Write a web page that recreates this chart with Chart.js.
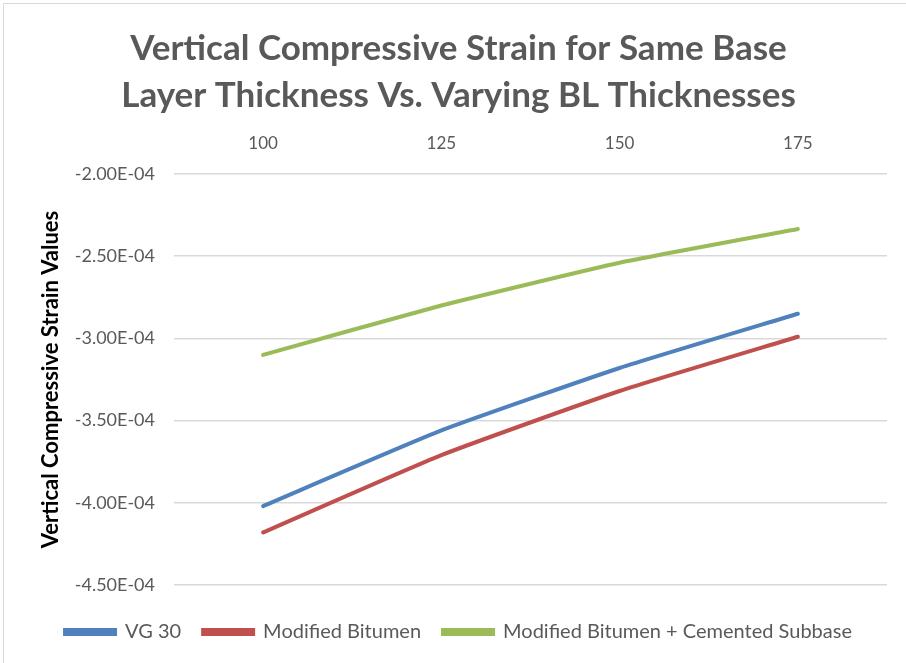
<!DOCTYPE html>
<html>
<head>
<meta charset="utf-8">
<script src="https://cdn.jsdelivr.net/npm/chart.js@4.4.1/dist/chart.umd.min.js"></script>
<style>
  html, body { margin: 0; padding: 0; background: #fff; }
  #wrap { position: relative; width: 906px; height: 663px; }
</style>
</head>
<body>
<div id="wrap"><canvas id="chart" width="906" height="663"></canvas></div>
<script>
// Base layer thickness categories (mm)
const thicknesses = ['100', '125', '150', '175'];

// Vertical compressive strain for each binder configuration
const vg30 = [-4.02e-4, -3.56e-4, -3.18e-4, -2.85e-4];
const modifiedBitumen = [-4.18e-4, -3.71e-4, -3.32e-4, -2.99e-4];
const modifiedCemented = [-3.10e-4, -2.80e-4, -2.54e-4, -2.335e-4];

const seriesNames = ['VG 30', 'Modified Bitumen', 'Modified Bitumen + Cemented Subbase'];
const titleLines = ['Vertical Compressive Strain for Same Base', 'Layer Thickness Vs. Varying BL Thicknesses'];
const yTitle = 'Vertical Compressive Strain Values';

const FONT = 'Lato, "Open Sans", sans-serif';
const GREY = '#595959';

function sciLabel(v) {
  const [m, e] = Number(v).toExponential(2).split('e');
  const n = parseInt(e, 10);
  const sign = n < 0 ? '-' : '+';
  return m + 'E' + sign + String(Math.abs(n)).padStart(2, '0');
}

// thin outline along the top and left edges of the chart
const frame = {
  id: 'frame',
  beforeDraw(chart) {
    const ctx = chart.ctx;
    ctx.save();
    ctx.strokeStyle = '#d9d9d9';
    ctx.lineWidth = 1;
    ctx.beginPath();
    ctx.moveTo(3.5, chart.height);
    ctx.lineTo(3.5, 3.5);
    ctx.lineTo(chart.width, 3.5);
    ctx.stroke();
    ctx.restore();
  }
};

function line(label, data, color) {
  return {
    label, data,
    borderColor: color,
    backgroundColor: color,
    borderWidth: 4,
    pointRadius: 0,
    pointHoverRadius: 0,
    tension: 0.15,
    borderCapStyle: 'round',
    fill: false
  };
}

new Chart(document.getElementById('chart'), {
  type: 'line',
  data: {
    labels: thicknesses,
    datasets: [
      line(seriesNames[0], vg30, '#4F81BD'),
      line(seriesNames[1], modifiedBitumen, '#C0504D'),
      line(seriesNames[2], modifiedCemented, '#9BBB59')
    ]
  },
  plugins: [frame],
  options: {
    responsive: false,
    animation: false,
    layout: { padding: { left: 30, right: 19, top: 0, bottom: 11 } },
    plugins: {
      title: {
        display: true,
        text: titleLines,
        color: GREY,
        font: { family: FONT, size: 35, weight: 'bold', lineHeight: 47 / 35 },
        padding: { top: 25, bottom: 0 }
      },
      legend: {
        display: true,
        position: 'bottom',
        align: 'center',
        title: {
          display: true,
          text: '',
          font: { size: 1, lineHeight: 1 },
          padding: { top: 14, bottom: 0 }
        },
        labels: {
          color: GREY,
          font: { family: FONT, size: 20 },
          boxWidth: 50,
          boxHeight: 4,
          padding: 22
        }
      },
      tooltip: { enabled: false }
    },
    scales: {
      x: {
        position: 'top',
        offset: true,
        grid: { display: false, drawTicks: false },
        border: { display: false },
        ticks: { color: GREY, font: { family: FONT, size: 17 }, padding: 20 },
        afterFit(scale) { scale.height = 55; }
      },
      y: {
        min: -4.5e-4,
        max: -2e-4,
        border: { display: false },
        grid: { color: '#d9d9d9', lineWidth: 1.5, drawTicks: false },
        ticks: {
          stepSize: 0.5e-4,
          color: GREY,
          font: { family: FONT, size: 18 },
          padding: 19,
          callback: (v) => sciLabel(v)
        },
        title: {
          display: true,
          text: yTitle,
          color: '#000',
          font: { family: FONT, size: 22, weight: 'bold', lineHeight: 1.2 },
          padding: { top: 8, bottom: 0 }
        },
        afterFit(scale) { scale.width = 144; }
      }
    }
  }
});
</script>
</body>
</html>
